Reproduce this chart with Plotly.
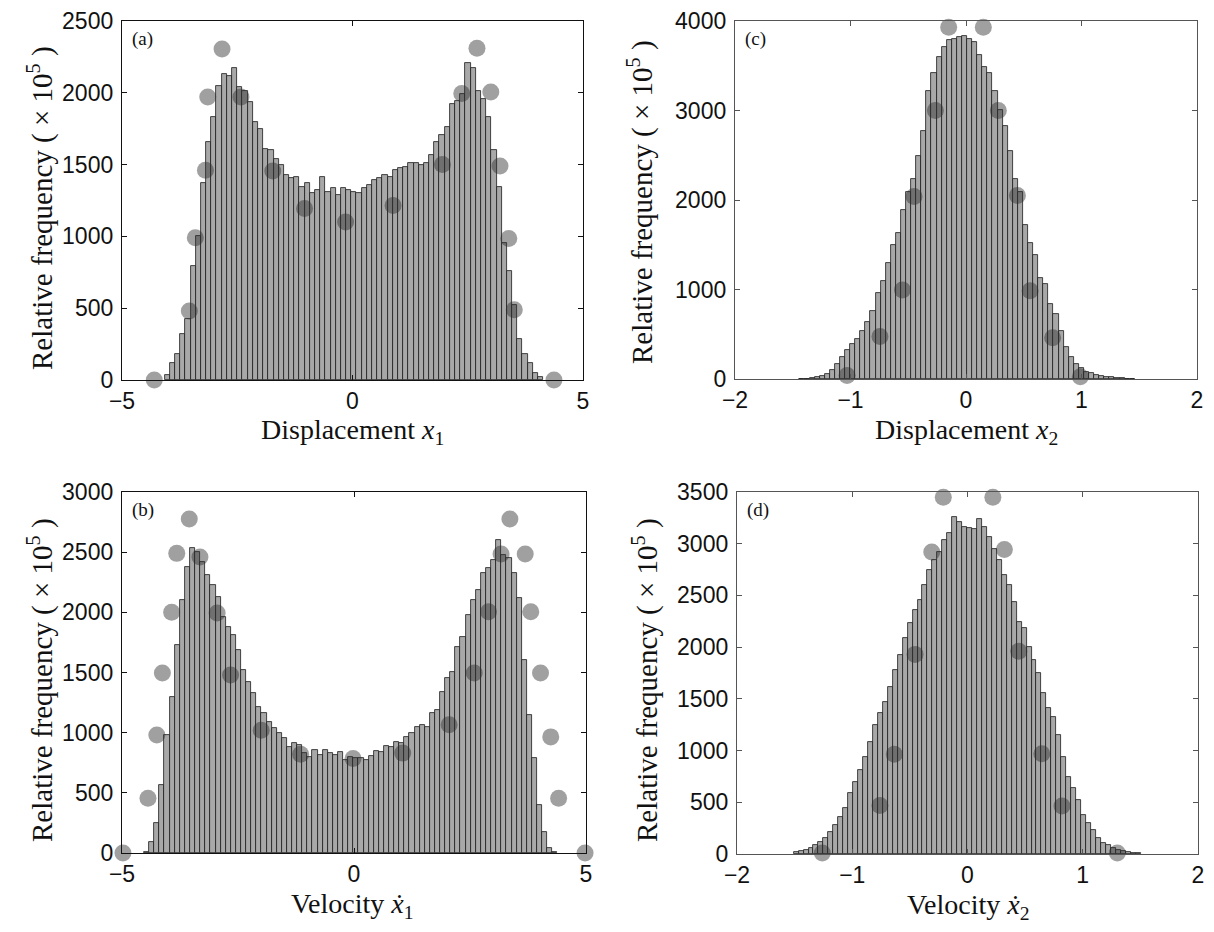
import numpy as np
import plotly.graph_objects as go

# ---------------- data ----------------
# (a) Displacement x1 histogram
A_START, A_WIDTH = -4.02, 0.1125
A_HEIGHTS = [35, 115, 184, 322, 426, 794, 1001, 1370, 1657, 1830, 2049, 2129, 2118, 2175,
             2037, 2014, 1934, 1796, 1749, 1611, 1600, 1542, 1496, 1427, 1404, 1416, 1347, 1370,
             1301, 1324, 1416, 1312, 1340, 1289, 1335, 1320,
             1312, 1301, 1335, 1358, 1393, 1404, 1427, 1416, 1462, 1473, 1485, 1508, 1508, 1496,
             1508, 1570, 1657, 1703, 1760, 1922, 1945, 1991,
             2210, 2175, 2014, 1957, 1830, 1600, 1347, 955, 760, 520, 288, 184, 115, 46, 23]
A_MX = [-4.30, -3.54, -3.41, -3.19, -3.14, -2.83, -2.42, -1.73, -1.04, -0.15, 0.88, 1.95,
        2.37, 2.70, 3.00, 3.20, 3.39, 3.51, 4.37]
A_MY = [0, 480, 990, 1460, 1970, 2305, 1970, 1455, 1195, 1100, 1215, 1500, 1995, 2310,
        2005, 1490, 985, 490, 0]

# (b) Velocity x1-dot histogram
B_START, B_WIDTH = -4.47, 0.110
B_HEIGHTS = [11, 94, 247, 565, 980, 1299, 1729, 2103, 2380, 2532, 2504, 2421, 2310, 2227, 2130,
             1964, 1881, 1812, 1687, 1521, 1424, 1327, 1216, 1161, 1091, 1036, 995, 953, 884,
             911, 898, 828, 801, 856, 814, 856, 828, 814, 842, 773, 801,
             787, 787, 773, 806, 845, 842, 889, 884, 925, 911, 967, 995, 1050, 1064, 1050,
             1161, 1188, 1341, 1452, 1507, 1715, 1798, 1978, 2103, 2186, 2325, 2366, 2435,
             2600, 2476, 2449, 2325, 2117, 1604, 1147, 787, 399, 177, 39, 11]
B_MX = [-4.98, -4.44, -4.25, -4.13, -3.93, -3.82, -3.55, -3.32, -2.95, -2.66, -2.0, -1.15,
        -0.02, 1.05, 2.05, 2.59, 2.90, 3.17, 3.36, 3.69, 3.81, 4.02, 4.24, 4.41, 4.98]
B_MY = [0, 455, 980, 1495, 2000, 2490, 2775, 2460, 1995, 1480, 1020, 820, 785, 830, 1065,
        1495, 2005, 2485, 2775, 2485, 2005, 1495, 965, 455, 0]

# (c) Displacement x2 histogram
C_START, C_WIDTH = -1.421, 0.044
C_HEIGHTS = [3, 5, 10, 20, 35, 60,
             99, 173, 247, 320, 394, 449, 541, 633, 762, 965, 1094, 1297, 1500, 1628, 1886,
             2089, 2237, 2494, 2771, 3213, 3415, 3600, 3710, 3784, 3802, 3820,
             3838,
             3802, 3765, 3618, 3489, 3415, 3213, 3010, 2826, 2549, 2237, 2089, 1721, 1518,
             1389, 1131, 1057, 836, 726, 541, 357, 247, 173, 118, 81, 63,
             45, 35, 25, 18, 12, 8, 5, 3]
C_MX = [-1.03, -0.745, -0.55, -0.45, -0.265, -0.15, 0.15, 0.28, 0.445, 0.555, 0.75, 0.99]
C_MY = [40, 475, 995, 2040, 3000, 3930, 3930, 3000, 2050, 985, 460, 25]

# (d) Velocity x2-dot histogram
D_START, D_WIDTH = -1.487, 0.043
D_HEIGHTS = [15, 25, 40, 60,
             87, 119, 151, 216, 281, 361, 441, 587, 700, 812, 941, 1086, 1247, 1360, 1473,
             1618, 1780, 1924, 2088, 2230, 2359, 2456, 2601, 2750, 2843, 2923, 3036, 3101,
             3261, 3213, 3165, 3149, 3140, 3237, 3160, 3068, 2950, 2843, 2698, 2601, 2440,
             2246, 2182, 2005, 1876, 1747, 1553, 1408, 1328, 1150, 941, 748, 635, 522, 377,
             297, 232, 151, 103, 87, 55,
             40, 28, 18, 12, 6]
D_MX = [-1.26, -0.76, -0.635, -0.455, -0.31, -0.21, 0.22, 0.32, 0.445, 0.645, 0.82, 1.30]
D_MY = [10, 470, 965, 1930, 2920, 3450, 3450, 2945, 1960, 970, 465, 10]

PANELS = [
    ("a", A_START, A_WIDTH, A_HEIGHTS, A_MX, A_MY, [-5, 5], [-5, 0, 5], [0, 2500],
     [0, 500, 1000, 1500, 2000, 2500], "(a)", "Displacement <i>x</i><sub>1</sub>"),
    ("c", C_START, C_WIDTH, C_HEIGHTS, C_MX, C_MY, [-2, 2], [-2, -1, 0, 1, 2], [0, 4000],
     [0, 1000, 2000, 3000, 4000], "(c)", "Displacement <i>x</i><sub>2</sub>"),
    ("b", B_START, B_WIDTH, B_HEIGHTS, B_MX, B_MY, [-5, 5], [-5, 0, 5], [0, 3000],
     [0, 500, 1000, 1500, 2000, 2500, 3000], "(b)", "Velocity <i>ẋ</i><sub>1</sub>"),
    ("d", D_START, D_WIDTH, D_HEIGHTS, D_MX, D_MY, [-2, 2], [-2, -1, 0, 1, 2], [0, 3500],
     [0, 500, 1000, 1500, 2000, 2500, 3000, 3500], "(d)", "Velocity <i>ẋ</i><sub>2</sub>"),
]

# ---------------- layout geometry (pixels, in the 1214x932 window) ----------------
PAGE_OFF = 8                    # default body margin of the html page
W, H = 1214 - 2 * PAGE_OFF, 932 - 2 * PAGE_OFF
BOXES = {  # left, right, top, bottom in window pixels
    "a": (122, 583, 21, 380),
    "c": (735, 1197, 21, 379),
    "b": (122, 586, 492, 853),
    "d": (737, 1198, 492, 854),
}
XTITLE_POS = {"a": (352, 431), "c": (966, 431), "b": (352, 905), "d": (968, 906)}
YTITLE_POS = {"a": (40, 208), "c": (640, 202), "b": (40, 680), "d": (645, 680)}
FRAME_COLOR = {"a": "#111111", "b": "#111111", "c": "#555555", "d": "#555555"}


def px(v):
    return (v - PAGE_OFF) / W


def py(v):
    return 1 - (v - PAGE_OFF) / H


fig = go.Figure()
annotations = []
layout = {}
SERIF = "Liberation Serif, Times New Roman, serif"
SANS = "Liberation Sans, Arial, sans-serif"

for i, (key, start, width, heights, mx, my, xr, xt, yr, yt, lab, xtitle) in enumerate(PANELS):
    idx = i + 1
    xa = "x" if idx == 1 else f"x{idx}"
    ya = "y" if idx == 1 else f"y{idx}"
    centers = start + width * np.arange(len(heights))
    fig.add_trace(go.Bar(
        x=centers, y=heights, width=width, xaxis=xa, yaxis=ya,
        marker=dict(color="#a8a8a8", line=dict(color="#1c1c1c", width=0.8)),
        showlegend=False, hoverinfo="x+y"))
    fig.add_trace(go.Scatter(
        x=mx, y=my, mode="markers", xaxis=xa, yaxis=ya, cliponaxis=False,
        marker=dict(size=17, color="rgba(45,45,45,0.45)", line=dict(width=0)),
        showlegend=False))
    l, r, t, b = BOXES[key]
    fc = FRAME_COLOR[key]
    axis_common = dict(showline=True, mirror="ticks", linecolor=fc, linewidth=1.3,
                       ticks="inside", ticklen=5, tickcolor=fc, showgrid=False,
                       zeroline=False, automargin=False, ticklabeloverflow="allow",
                       tickfont=dict(family=SANS, size=23, color="#111"))
    layout["xaxis" if idx == 1 else f"xaxis{idx}"] = dict(
        domain=[px(l), px(r)], range=xr, tickvals=xt, anchor=ya, **axis_common)
    layout["yaxis" if idx == 1 else f"yaxis{idx}"] = dict(
        domain=[py(b), py(t)], range=yr, tickvals=yt, anchor=xa,
        ticklabelstandoff=3, **axis_common)
    annotations.append(dict(x=px(l + 8), y=py(t + 5), xref="paper", yref="paper",
                            text=lab, showarrow=False, xanchor="left", yanchor="top",
                            font=dict(family=SERIF, size=19, color="#111")))
    xp, yp = XTITLE_POS[key]
    annotations.append(dict(x=px(xp), y=py(yp), xref="paper", yref="paper",
                            text=xtitle, showarrow=False, xanchor="center", yanchor="middle",
                            font=dict(family=SERIF, size=28, color="#111")))
    xp, yp = YTITLE_POS[key]
    annotations.append(dict(x=px(xp), y=py(yp), xref="paper", yref="paper",
                            text="Relative frequency ( × 10<sup>5</sup> )", textangle=-90,
                            showarrow=False, xanchor="center", yanchor="middle",
                            font=dict(family=SERIF, size=29, color="#111")))

fig.update_layout(
    width=W, height=H, margin=dict(l=0, r=0, t=0, b=0, autoexpand=False),
    paper_bgcolor="white", plot_bgcolor="white", bargap=0,
    annotations=annotations, **layout)

fig.write_html("out.html")
